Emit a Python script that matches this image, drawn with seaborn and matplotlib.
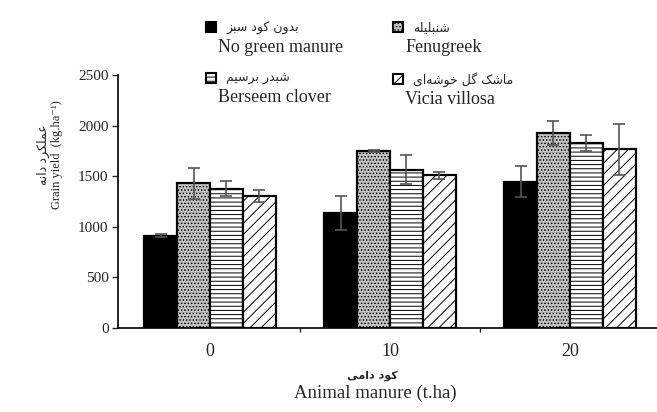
import matplotlib
matplotlib.use('Agg')
import matplotlib.pyplot as plt
from matplotlib.patches import Patch
import pandas as pd
import seaborn as sns

# data
manure_levels = ['0', '10', '20']
treatments = ['No green manure', 'Fenugreek', 'Berseem clover', 'Vicia villosa']
treatments_fa = ['بدون کود سبز', 'شنبلیله', 'شبدر برسیم', 'ماشک گل خوشه‌ای']
yield_no_green = [910, 1135, 1445]
yield_fenugreek = [1430, 1750, 1925]
yield_berseem = [1375, 1565, 1825]
yield_vicia = [1305, 1510, 1765]
err_no_green = [15, 165, 155]
err_fenugreek = [155, 12, 120]
err_berseem = [75, 140, 80]
err_vicia = [60, 35, 255]

# matplotlib does no arabic shaping, so map letters to presentation forms
FORMS = {  # isolated, final, initial, medial
    'ا': ('\uFE8D', '\uFE8E', None, None),
    'ب': ('\uFE8F', '\uFE90', '\uFE91', '\uFE92'),
    'خ': ('\uFEA5', '\uFEA6', '\uFEA7', '\uFEA8'),
    'د': ('\uFEA9', '\uFEAA', None, None),
    'ر': ('\uFEAD', '\uFEAE', None, None),
    'ز': ('\uFEAF', '\uFEB0', None, None),
    'س': ('\uFEB1', '\uFEB2', '\uFEB3', '\uFEB4'),
    'ش': ('\uFEB5', '\uFEB6', '\uFEB7', '\uFEB8'),
    'ع': ('\uFEC9', '\uFECA', '\uFECB', '\uFECC'),
    'ل': ('\uFEDD', '\uFEDE', '\uFEDF', '\uFEE0'),
    'م': ('\uFEE1', '\uFEE2', '\uFEE3', '\uFEE4'),
    'ن': ('\uFEE5', '\uFEE6', '\uFEE7', '\uFEE8'),
    'ه': ('\uFEE9', '\uFEEA', '\uFEEB', '\uFEEC'),
    'و': ('\uFEED', '\uFEEE', None, None),
    'ک': ('\uFB8E', '\uFB8F', '\uFB90', '\uFB91'),
    'گ': ('\uFB92', '\uFB93', '\uFB94', '\uFB95'),
    'ی': ('\uFBFC', '\uFBFD', '\uFBFE', '\uFBFF'),
}


def shape_fa(text):
    out = []
    for i, c in enumerate(text):
        if c == '\u200c':
            continue
        if c not in FORMS:
            out.append(c)
            continue
        prev = text[i - 1] if i > 0 else None
        nxt = text[i + 1] if i + 1 < len(text) else None
        join_prev = prev in FORMS and FORMS[prev][2] is not None
        join_next = nxt in FORMS and FORMS[c][2] is not None
        iso, fin, ini, med = FORMS[c]
        if join_prev and join_next:
            out.append(med)
        elif join_prev:
            out.append(fin)
        elif join_next:
            out.append(ini)
        else:
            out.append(iso)
    return ''.join(reversed(out))


sns.set_style('white')
fonts = ['Liberation Serif', 'DejaVu Sans']
plt.rcParams['font.family'] = fonts
plt.rcParams['hatch.linewidth'] = 0.7

df = pd.DataFrame({
    'manure': manure_levels * 4,
    'treatment': sum([[t] * 3 for t in treatments], []),
    'yield': yield_no_green + yield_fenugreek + yield_berseem + yield_vicia,
    'err': err_no_green + err_fenugreek + err_berseem + err_vicia,
})

faces = ['black', '#c4c4c4', 'white', 'white']
hatches = ['', '.....', '----', '///']

fig = plt.figure(figsize=(6.57, 4.12), dpi=100)
ax = fig.add_axes([0.18, 0.204, 0.82, 0.614])
sns.barplot(data=df, x='manure', y='yield', hue='treatment', order=manure_levels,
            hue_order=treatments, palette=faces, edgecolor='black', linewidth=1.6,
            errorbar=None, width=0.73, saturation=1, legend=False, ax=ax)

for cont, h, t in zip(ax.containers, hatches, treatments):
    errs = df[df.treatment == t]['err'].values
    xs, ys = [], []
    for p in cont.patches:
        p.set_hatch(h)
        xs.append(p.get_x() + p.get_width() / 2)
        ys.append(p.get_height())
    ax.errorbar(xs, ys, yerr=errs, fmt='none', ecolor='#555555', elinewidth=1.2,
                capsize=4, capthick=1.2)

ax.set_ylim(0, 2500)
ax.set_xlim(-0.51, 2.484)
ax.set_yticks(range(0, 2501, 500))
ax.tick_params(axis='y', direction='out', length=4, width=1, labelsize=11, left=True, pad=3)
ax.tick_params(axis='x', which='major', length=0, labelsize=13, pad=11)
ax.set_xticks([0.5, 1.5], minor=True)
ax.tick_params(axis='x', which='minor', direction='out', length=3, width=1, bottom=True)
for s in ['top', 'right']:
    ax.spines[s].set_visible(False)
for s in ['left', 'bottom']:
    ax.spines[s].set_color('black')
    ax.spines[s].set_linewidth(1.2)
ax.set_xlabel('Animal manure (t.ha)', fontsize=13.5)
ax.xaxis.set_label_coords(0.477, -0.225)
ax.set_ylabel(shape_fa('عملکرد دانه') + '\nGrain yield  (kg.ha\u207b\u00b9)', fontsize=9)
ax.yaxis.set_label_coords(-0.102, 0.684)
ax.text(0.472, -0.19, shape_fa('کود دامی'), transform=ax.transAxes, ha='center', va='center',
        fontsize=8, fontweight='bold', family=['DejaVu Sans'])

# legend: persian line next to the marker, english line placed under it
order = [0, 2, 1, 3]
handles = [Patch(facecolor=faces[i], edgecolor='black', hatch=hatches[i], linewidth=1.5)
           for i in order]
leg = fig.legend(handles, [shape_fa(treatments_fa[i]) for i in order], loc='upper left',
                 bbox_to_anchor=(0.296, 0.975), ncol=2, frameon=False,
                 handlelength=0.85, handleheight=0.85, columnspacing=7.5,
                 labelspacing=3.0, handletextpad=0.8, prop={'family': ['DejaVu Sans'], 'size': 9})
fig.canvas.draw()
inv = fig.transFigure.inverted()
for txt, i in zip(leg.get_texts(), order):
    bb = txt.get_window_extent()
    x0, y0 = inv.transform((bb.x0 - 8, bb.y0 - 4))
    fig.text(x0, y0, treatments[i], ha='left', va='top', fontsize=13)

fig.savefig('out.png', dpi=100)
